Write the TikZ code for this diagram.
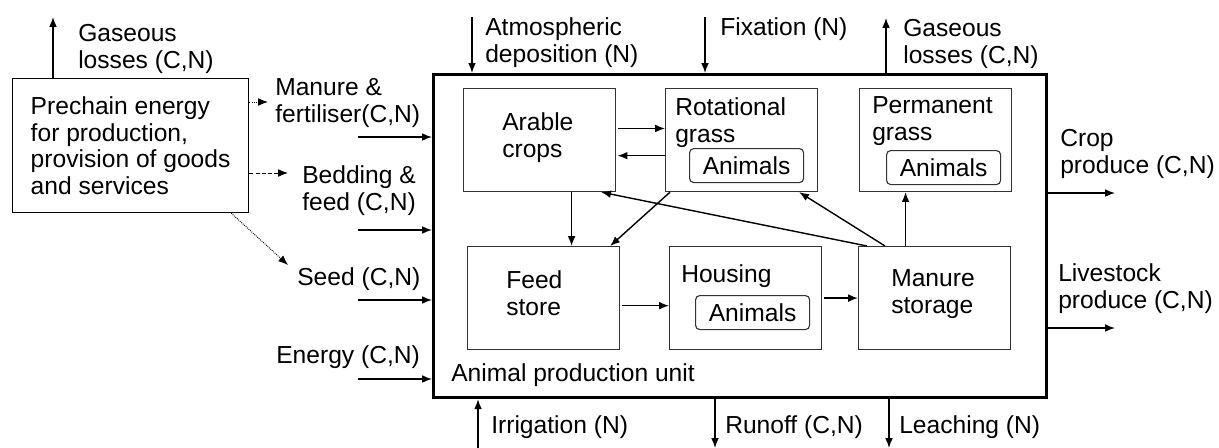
\documentclass[tikz,border=0pt]{standalone}
\usepackage{fontspec}
\setmainfont{Liberation Sans}
\usetikzlibrary{arrows.meta}
\usetikzlibrary{positioning}

\begin{document}
\begin{tikzpicture}[x=0.025cm,y=-0.025cm,
  font=\fontsize{17.5}{19}\selectfont,
  flow/.style={-{Latex[length=7pt,width=5.5pt]},line width=1},
  thinflow/.style={-{Latex[length=7pt,width=5.5pt]},line width=0.7},
  unitbox/.style={draw,line width=2.2,minimum width=15.325cm,minimum height=8.075cm,anchor=north west,inner sep=0},
  compart/.style={draw=black!80,line width=0.8,minimum width=3.8cm,minimum height=2.575cm,anchor=north west,align=left,inner sep=0},
  animalbox/.style={draw=black!80,line width=0.8,rounded corners=3,minimum width=2.85cm,minimum height=0.85cm,anchor=north west,inner sep=0},
  lbl/.style={anchor=base west,align=left,inner sep=0}]
\useasboundingbox (0,0) rectangle (1219,448);

% boxes
\node[draw,line width=0.8,minimum width=5.9cm,minimum height=3.35cm,anchor=north west,align=left,inner sep=0] (prechain) at (12,78)
  {Prechain energy\\for production,\\provision of goods\\and services};
\node[unitbox] (apu) at (432,73) {};
\node[lbl] (apulbl) at (451,381) {Animal production unit};

\node[compart] (arable) at (463,88) {};
\node[compart] (rotgrass) at (665,88) {};
\node[compart] (permgrass) at (859,88) {};
\node[compart] (feedstore) at (467,246) {};
\node[compart] (housing) at (669,246) {};
\node[compart] (manstore) at (858,246) {};

\node[lbl] (arlbl) at (502,157) {Arable\\crops};
\node[lbl] (rotlbl) at (675,142) {Rotational\\grass};
\node[lbl] (permlbl) at (872,140) {Permanent\\grass};
\node[lbl] (feedlbl) at (506,315) {Feed\\store};
\node[lbl] (houlbl) at (681,282) {Housing};
\node[lbl] (manlbl2) at (891,313) {Manure\\storage};
\node[animalbox] (rotanim) at ([xshift=0.6cm,yshift=-1.5cm]rotgrass.north west) {Animals};
\node[animalbox] (permanim) at ([xshift=0.675cm,yshift=-1.55cm]permgrass.north west) {Animals};
\node[animalbox] (houanim) at ([xshift=0.65cm,yshift=-1.225cm]housing.north west) {Animals};

% labels (base = last line)
\node[lbl] (gasL) at (78,68) {Gaseous\\losses (C,N)};
\node[lbl] (manlbl) at (275,122) {Manure \&\\fertiliser(C,N)};
\node[lbl] (bedlbl) at (302,210) {Bedding \&\\feed (C,N)};
\node[lbl] (seedlbl) at (297,285) {Seed (C,N)};
\node[lbl] (enlbl) at (276,363) {Energy (C,N)};
\node[lbl] (atmlbl) at (485,62) {Atmospheric\\deposition (N)};
\node[lbl] (fixlbl) at (720,35) {Fixation (N)};
\node[lbl] (gasR) at (903,63) {Gaseous\\losses (C,N)};
\node[lbl] (croplbl) at (1060,173) {Crop\\produce (C,N)};
\node[lbl] (livelbl) at (1058,308) {Livestock\\produce (C,N)};
\node[lbl] (irrlbl) at (491,433) {Irrigation (N)};
\node[lbl] (runlbl) at (725,433) {Runoff (C,N)};
\node[lbl] (leachlbl) at (899,433) {Leaching (N)};

% free ends
\coordinate (gasLend) at (53,17);
\coordinate (gasRend) at (886,18);
\coordinate (atmtop) at (472,17);
\coordinate (fixtop) at (705,17);
\coordinate (inman) at (358,137);
\coordinate (inbed) at (358,230);
\coordinate (inseed) at (358,300);
\coordinate (inen) at (358,379);
\coordinate (outcrop) at (1115,193);
\coordinate (outlive) at (1115,328);
\coordinate (irrbot) at (478,448);
\coordinate (runbot) at (715,448);
\coordinate (leachbot) at (889,448);
\coordinate (dotM) at (268,102);
\coordinate (dashB) at (288,173);
\coordinate (dotS) at (288,265);

% flows across the unit border
\draw[flow] (gasLend |- prechain.north) -- (gasLend);
\draw[flow] (atmtop) -- (atmtop |- apu.north);
\draw[flow] (fixtop) -- (fixtop |- apu.north);
\draw[flow] (gasRend |- apu.north) -- (gasRend);
\foreach \c in {inman,inbed,inseed,inen}
  \draw[flow] (\c) -- (\c -| apu.west);
\draw[flow] (outcrop -| apu.east) -- (outcrop);
\draw[flow] (outlive -| apu.east) -- (outlive);
\draw[flow] (irrbot) -- (irrbot |- apu.south);
\draw[flow] (runbot |- apu.south) -- (runbot);
\draw[flow] (leachbot |- apu.south) -- (leachbot);

% prechain
\draw[thinflow,densely dotted] (prechain.east |- dotM) -- (dotM);
\draw[thinflow,dash pattern=on 3pt off 1.5pt] (prechain.east |- dashB) -- (dashB);
\draw[thinflow,dash pattern=on 0.6pt off 0.8pt] ([xshift=-0.45cm]prechain.south east) -- (dotS);

% inside the unit
\draw[flow] ([xshift=1pt,yshift=0.29cm]arable.east) -- ([yshift=0.29cm]arable.east -| rotgrass.west);
\draw[flow] ([yshift=-0.39cm]rotgrass.west) -- ([xshift=1pt,yshift=-0.39cm]rotgrass.west -| arable.east);
\draw[flow] ([xshift=0.8cm]arable.south) -- ([xshift=0.8cm]arable.south |- feedstore.north);
\draw[flow] ([xshift=0.125cm]rotgrass.south west) -- ([xshift=-0.25cm]feedstore.north east);
\draw[flow] ([xshift=0.225cm]manstore.north west) -- ([xshift=-0.375cm]arable.south east);
\draw[flow] ([xshift=0.675cm]manstore.north west) -- ([xshift=-0.475cm]rotgrass.south east);
\draw[flow] ([xshift=-0.725cm]manstore.north) -- ([xshift=-0.725cm]manstore.north |- permgrass.south);
\draw[flow] ([xshift=1pt,yshift=-0.19cm]feedstore.east) -- ([yshift=-0.19cm]feedstore.east -| housing.west);
\draw[flow] ([xshift=1pt]housing.east) -- (housing.east -| manstore.west);
\end{tikzpicture}
\end{document}
